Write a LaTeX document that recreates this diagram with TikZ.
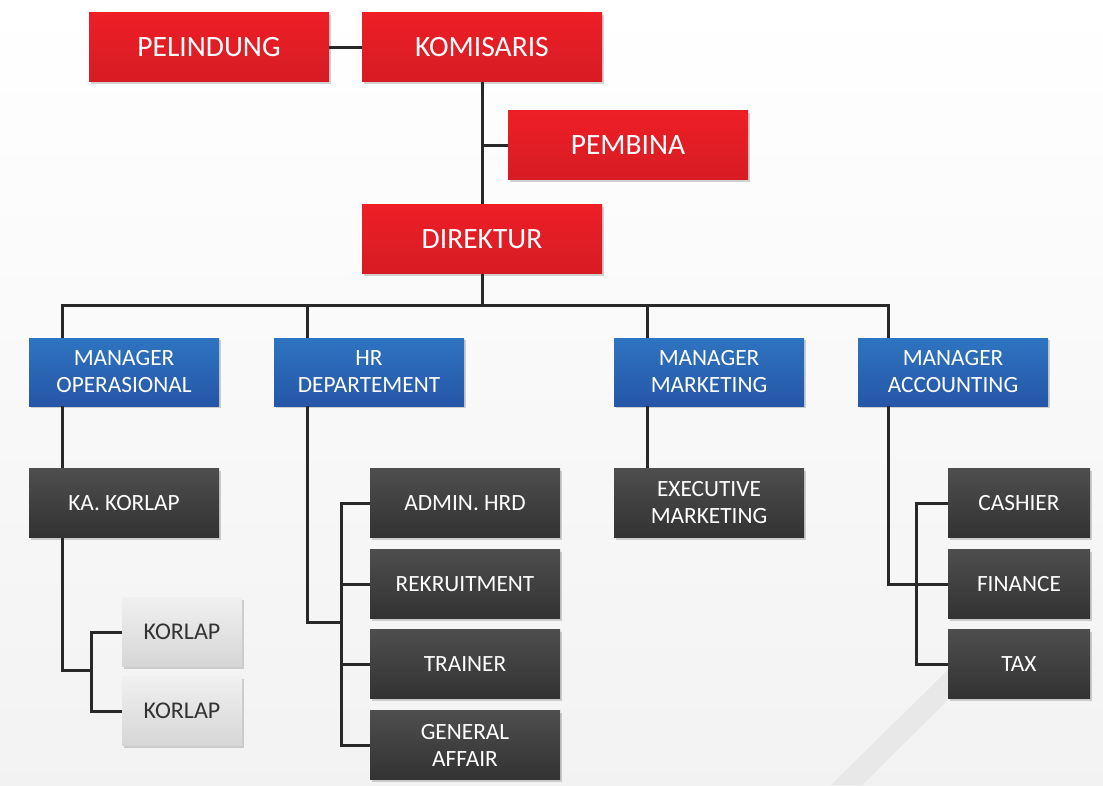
\documentclass[tikz,border=0pt]{standalone}
\usepackage{fontspec}
\setmainfont{Carlito}
\usetikzlibrary{shadows}
\definecolor{redtop}{RGB}{238,30,38}
\definecolor{redbot}{RGB}{214,28,36}
\definecolor{bluetop}{RGB}{46,116,192}
\definecolor{bluebot}{RGB}{38,86,168}
\definecolor{darktop}{RGB}{78,78,78}
\definecolor{darkbot}{RGB}{50,50,50}
\definecolor{lighttop}{RGB}{240,240,240}
\definecolor{lightbot}{RGB}{214,214,214}
\definecolor{linecol}{RGB}{40,40,40}
\tikzset{
  box/.style={rectangle, inner sep=0pt, align=center, text=white,
    drop shadow={shadow xshift=2pt, shadow yshift=-2pt, opacity=0.35}},
  redbox/.style={box, top color=redtop, bottom color=redbot,
    minimum width=240pt, minimum height=69pt, font=\fontsize{29.5}{32}\selectfont},
  bluebox/.style={box, top color=bluetop, bottom color=bluebot,
    minimum width=190pt, minimum height=68pt, font=\fontsize{23.3}{27}\selectfont},
  darkbox/.style={box, top color=darktop, bottom color=darkbot,
    minimum width=190pt, minimum height=69pt, font=\fontsize{23.3}{27}\selectfont},
  lightbox/.style={box, top color=lighttop, bottom color=lightbot, text=black!80,
    minimum width=120pt, minimum height=69pt, font=\fontsize{24}{27}\selectfont},
  link/.style={draw=linecol, line width=3pt}
}
\begin{document}
\begin{tikzpicture}[x=1pt,y=-1pt]
\useasboundingbox (0,0) rectangle (1103,785);
\shade[top color=white, bottom color=black!5] (0,0) rectangle (1103,785);
\fill[black!9] (831,785) -- (862,785) -- (955,693) -- (955,663) -- cycle;

% top of the tree
\node[redbox] (pelindung) at (209,47) {PELINDUNG};
\node[redbox] (komisaris) at (482,47) {KOMISARIS};
\node[redbox] (pembina) at (628,145) {PEMBINA};
\node[redbox] (direktur) at (482,239) {DIREKTUR};

% managers
\node[bluebox] (mops) at (124,372) {MANAGER\\OPERASIONAL};
\node[bluebox] (hr) at (369,372) {HR\\DEPARTEMENT};
\node[bluebox] (mmkt) at (709,372) {MANAGER\\MARKETING};
\node[bluebox] (macc) at (953,372) {MANAGER\\ACCOUNTING};

% staff
\node[darkbox] (kakorlap) at (124,503) {KA. KORLAP};
\node[lightbox] (korlapa) at (182,632) {KORLAP};
\node[lightbox] (korlapb) at (182,711) {KORLAP};
\node[darkbox] (admin) at (465,503) {ADMIN. HRD};
\node[darkbox] (rekrut) at (465,584) {REKRUITMENT};
\node[darkbox] (trainer) at (465,664) {TRAINER};
\node[darkbox] (general) at (465,745) {GENERAL\\AFFAIR};
\node[darkbox] (exec) at (709,503) {EXECUTIVE\\MARKETING};
\node[darkbox, minimum width=142pt] (cashier) at (1019,503) {CASHIER};
\node[darkbox, minimum width=142pt] (finance) at (1019,584) {FINANCE};
\node[darkbox, minimum width=142pt] (tax) at (1019,664) {TAX};

% connectors
\coordinate (bus) at (482,305);
\coordinate (kbr) at (91,670);
\coordinate (hbr) at (341,622);
\coordinate (hrtop) at ([xshift=34pt]hr.north west);
\coordinate (mkttop) at ([xshift=34pt]mmkt.north west);
\draw[link] (pelindung) -- (komisaris);
\draw[link] (komisaris) -- (direktur);
\draw[link] (pembina.west) -- (pembina.west -| komisaris);
\draw[link] (direktur) -- (bus);
\draw[link] ([xshift=34pt]mops.north west) |- (bus) -| ([xshift=31pt]macc.north west);
\draw[link] (hrtop) -- (hrtop |- bus);
\draw[link] (mkttop) -- (mkttop |- bus);
\draw[link] ([xshift=34pt]mops.south west) -- ([xshift=34pt]kakorlap.north west);
\draw[link] ([xshift=34pt]kakorlap.south west) |- (kbr);
\draw[link] (korlapa.west) -| (kbr) |- (korlapb.west);
\draw[link] ([xshift=34pt]hr.south west) |- (hbr);
\draw[link] (admin.west) -| (hbr) |- (general.west);
\draw[link] (rekrut.west) -- (rekrut.west -| hbr);
\draw[link] (trainer.west) -- (trainer.west -| hbr);
\draw[link] ([xshift=34pt]mmkt.south west) -- ([xshift=34pt]exec.north west);
\draw[link] ([xshift=31pt]macc.south west) |- (finance.west);
\draw[link] (cashier.west) -- ++(-31,0) |- (tax.west);
\end{tikzpicture}
\end{document}
